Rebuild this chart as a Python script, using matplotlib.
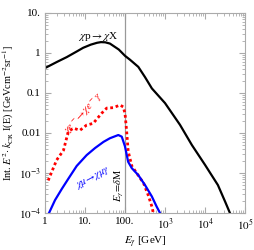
import matplotlib
matplotlib.use("Agg")
import matplotlib.pyplot as plt
import numpy as np
from matplotlib.ticker import LogLocator, NullFormatter

plt.rcParams['font.family'] = ['Liberation Serif', 'DejaVu Serif']
plt.rcParams['mathtext.fontset'] = 'stix'

# chi p -> chi X (black)
E_p = [1, 2, 3.5, 6.3, 9, 14, 20, 25, 32, 42, 70, 100, 133, 215, 316, 470, 1000, 2370, 4700, 1e4, 2.1e4, 3.2e4, 4.2e4]
I_p = [0.42, 0.6, 0.79, 1.1, 1.35, 1.62, 1.8, 1.87, 1.85, 1.72, 1.22, 0.85, 0.68, 0.45, 0.25, 0.13, 0.056, 0.016, 0.005, 0.0016, 5e-4, 1.9e-4, 1e-4]

# chi e- -> chi e- gamma (red dotted)
E_e = [1.2, 1.95, 2.9, 3.8, 5.1, 7.5, 11, 16, 26, 35, 51, 75, 90, 100, 110, 120, 148, 195, 290, 380, 470, 510]
I_e = [6.5e-4, 2.1e-3, 3.7e-3, 0.0107, 0.0132, 0.0117, 0.0158, 0.0174, 0.031, 0.042, 0.043, 0.05, 0.045, 0.031, 0.011, 3.5e-3, 1.5e-3, 1e-3, 5.6e-4, 2.8e-4, 1.45e-4, 1e-4]

# chi mu -> chi mu gamma (blue)
E_m = [1.26, 1.78, 2.63, 3.8, 6.2, 11, 17.8, 29, 42, 68, 83, 100, 120, 148, 214, 316, 468, 617, 750]
I_m = [1e-4, 2.1e-4, 4e-4, 7.1e-4, 1.5e-3, 2.8e-3, 4.2e-3, 6e-3, 7.4e-3, 8.9e-3, 8.1e-3, 4.6e-3, 1.9e-3, 1.32e-3, 8.9e-4, 5e-4, 2.6e-4, 1.45e-4, 1e-4]

x_ticks = [1, 10, 100, 1e3, 1e4, 1e5]
x_labels = ['1', '10.', '100.', '$10^3$', '$10^4$', '$10^5$']
y_ticks = [1e-4, 1e-3, 1e-2, 1e-1, 1, 10]
y_labels = ['$10^{-4}$', '$10^{-3}$', '0.01', '0.1', '1', '10.']
delta_M = 100

fig = plt.figure(figsize=(2.55, 2.5), dpi=100)
ax = fig.add_axes([0.1765, 0.148, 0.7843, 0.8])
ax.set_xscale('log')
ax.set_yscale('log')
ax.set_xlim(1, 1e5)
ax.set_ylim(1e-4, 10)

ax.axvline(delta_M, color='#999999', lw=0.9)
ax.plot(E_p, I_p, color='black', lw=1.6)
ax.plot(E_e, I_e, color='red', lw=2.0, linestyle=(0, (1, 1.0)))
ax.plot(E_m, I_m, color='blue', lw=1.6)

ax.set_xticks(x_ticks)
ax.set_xticklabels(x_labels)
ax.set_yticks(y_ticks)
ax.set_yticklabels(y_labels)
ax.xaxis.set_minor_locator(LogLocator(base=10, subs=np.arange(2, 10), numticks=20))
ax.yaxis.set_minor_locator(LogLocator(base=10, subs=np.arange(2, 10), numticks=20))
ax.xaxis.set_minor_formatter(NullFormatter())
ax.yaxis.set_minor_formatter(NullFormatter())
ax.tick_params(which='both', direction='in', top=True, right=True, color='#aaaaaa', labelsize=8, pad=3)
ax.tick_params(which='major', length=4, width=0.8)
ax.tick_params(which='minor', length=2, width=0.6)
for s in ax.spines.values():
    s.set_color('#aaaaaa')
    s.set_linewidth(0.8)

ax.set_xlabel(r'$E_\gamma$ [GeV]', fontsize=8, labelpad=2)
ax.set_ylabel(r'Int. $E^2\!\cdot k_{\rm CR}$ I(E) [GeVcm$^{-2}$sr$^{-1}$]', fontsize=7.5, labelpad=2)

ax.text(21, 2.6, r'$\chi$p$\rightarrow\chi$X', fontsize=8, ha='center', va='center')
ax.text(9.5, 0.03, r'$\chi e^-\!\rightarrow\!\chi e^-\gamma$', fontsize=7.5, color='red', ha='center', va='center', rotation=48)
ax.text(16, 7.5e-4, r'$\chi\mu\!\rightarrow\!\chi\mu\gamma$', fontsize=7.5, color='blue', ha='center', va='center', rotation=28)
ax.text(72, 5e-4, r'$E_\gamma\!=\!\delta$M', fontsize=7.5, ha='center', va='center', rotation=90)

fig.savefig('out.png', dpi=100)
